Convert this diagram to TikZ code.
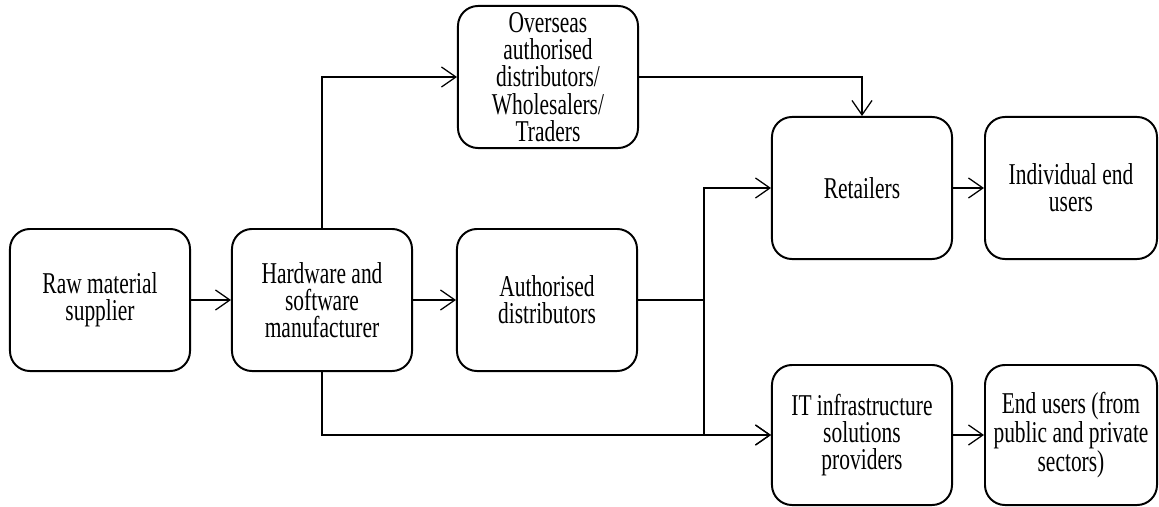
\documentclass[tikz,border=0pt]{standalone}
\usepackage{fontspec}
\setmainfont{Liberation Serif}[FakeStretch=0.71]
\usetikzlibrary{arrows.meta}

\begin{document}
\begin{tikzpicture}[x=0.025cm,y=-0.025cm,
    box/.style={draw, line width=1.4pt, rounded corners=0.5cm,
      minimum width=4.5cm, minimum height=3.55cm, inner sep=2pt,
      align=center, font=\fontsize{21.5}{19.4}\selectfont},
    link/.style={line width=0.9pt, -{Straight Barb[length=3.6mm,width=5mm]}}]
  \useasboundingbox (0,0) rectangle (1159,507);

  % Supply side
  \node[box] (raw) at (100,300) {Raw material\\supplier};
  \node[box] (maker) at (322,300) {Hardware and\\software\\manufacturer};
  \node[box] (auth) at (547,300) {Authorised\\distributors};
  \node[box] (overseas) at (548,77) {Overseas\\authorised\\distributors/\\Wholesalers/\\Traders};

  % Sellers and users
  \node[box] (retail) at (862,188) {Retailers};
  \node[box, minimum width=4.3cm] (indiv) at (1071,188) {Individual end\\users};
  \node[box, minimum height=3.5cm] (itsp) at (862,435) {IT infrastructure\\solutions\\providers};
  \node[box, minimum width=4.3cm, minimum height=3.5cm] (enduser) at (1071,435) {End users (from\\public and private\\sectors)};

  % Flows
  \draw[link] (raw) -- (maker);
  \draw[link] (maker) -- (auth);
  \draw[link] (maker.north) |- (overseas.west);
  \draw[link] (overseas.east) -| (retail.north);
  \coordinate (split) at (704,300);
  \draw[line width=0.9pt] (auth.east) -- (split);
  \draw[link] (split) |- (retail.west);
  \draw[link] (split) |- (itsp.west);
  \draw[link] (maker.south) |- (itsp.west);
  \draw[link] (retail) -- (indiv);
  \draw[link] (itsp) -- (enduser);
\end{tikzpicture}
\end{document}
